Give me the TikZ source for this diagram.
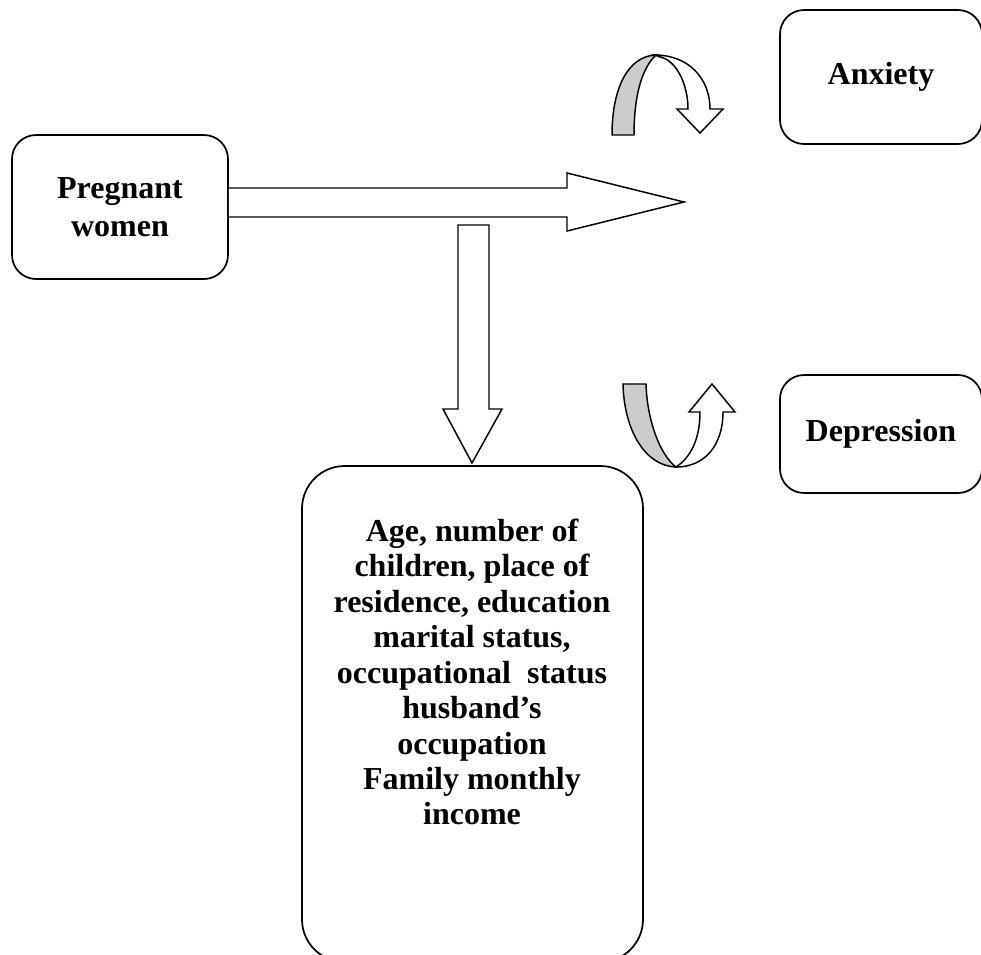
\documentclass[tikz,border=0pt]{standalone}
\usepackage{fontspec}
\setmainfont{Liberation Serif}
\begin{document}
\begin{tikzpicture}[x=0.75pt,y=-0.75pt,
  boxstyle/.style={draw, line width=1.3pt, rounded corners=18pt, align=center,
     font=\fontsize{24}{28.5}\selectfont\bfseries, inner sep=0pt},
  blockarrow/.style={draw, line width=1.1pt, fill=white, line join=miter},
  twist/.style={draw, line width=1.1pt, fill=black!20},
  twistw/.style={draw, line width=1.1pt, fill=white}]
\useasboundingbox (0,0) rectangle (981,954);
\node[boxstyle, minimum width=162pt, minimum height=108pt] (preg) at (120,207) {Pregnant\\women};
\node[boxstyle, minimum width=151.5pt, minimum height=100.5pt] (anx) at (881,77) {Anxiety};
\node[boxstyle, minimum width=151.5pt, minimum height=88.5pt] (dep) at (881,434) {Depression};
\node[draw, line width=1.3pt, rounded corners=32pt, minimum width=255.75pt, minimum height=372pt] (fac) at (472.5,714) {};
\node[align=center, font=\fontsize{24}{26.6}\selectfont\bfseries, inner sep=0pt] (factext) at (472,672)
  {Age, number of\\children, place of\\residence, education\\marital status,\\occupational\ \ status\\husband’s\\occupation\\Family monthly\\income};
% right block arrow
\draw[blockarrow] (preg.east |- 0,188) -- (567,188) -- (567,173) -- (684,202) -- (567,231) -- (567,217) -- (preg.east |- 0,217);
% down block arrow
\draw[blockarrow] (458,225) -- (489,225) -- (489,409) -- (502,409) -- (472,463) -- (443,409) -- (458,409) -- cycle;
% anxiety curved arrow
\draw[twistw, line join=miter] (655,55) .. controls (688,55) and (710,78) .. (710,109) -- (723,109) -- (700,133) -- (677,109) -- (688,109) .. controls (688,84) and (676,60) .. (660,57) -- cycle;
\draw[twist] (612,135) .. controls (612,88) and (628,56) .. (656,55) .. controls (642,68) and (634,95) .. (634,135) -- cycle;
% depression curved arrow
\draw[twistw, line join=miter] (676,467) .. controls (705,467) and (723,445) .. (723,412) -- (735,412) -- (712,384) -- (689,412) -- (700,412) .. controls (700,440) and (690,458) .. (676,467) -- cycle;
\draw[twist] (623,384) .. controls (624,430) and (645,466) .. (676,467) .. controls (660,455) and (647,420) .. (646,384) -- cycle;
\end{tikzpicture}
\end{document}
